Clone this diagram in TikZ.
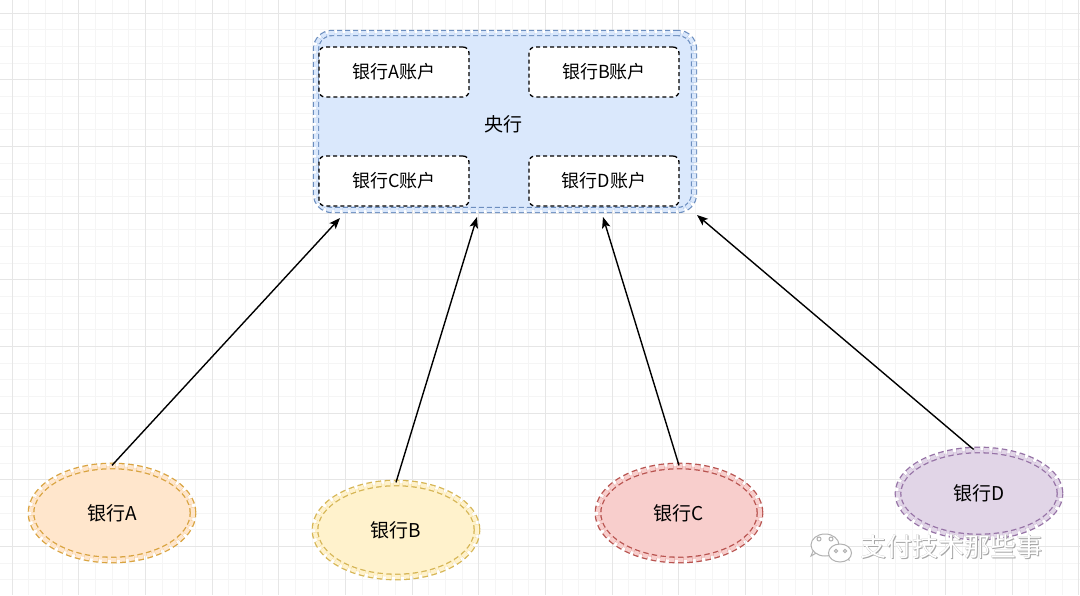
\documentclass[tikz,border=0pt]{standalone}
\usepackage{fontspec}
\setmainfont{Noto Sans CJK SC}
\usetikzlibrary{arrows.meta,shapes.geometric}
\definecolor{bluefill}{HTML}{DAE8FC}
\definecolor{bluedraw}{HTML}{6C8EBF}
\definecolor{orfill}{HTML}{FFE6CC}
\definecolor{ordraw}{HTML}{D9A441}
\definecolor{yefill}{HTML}{FFF2CC}
\definecolor{yedraw}{HTML}{D6B656}
\definecolor{refill}{HTML}{F8CECC}
\definecolor{redraw}{HTML}{B85450}
\definecolor{pufill}{HTML}{E1D5E7}
\definecolor{pudraw}{HTML}{9673A6}
\definecolor{gridminor}{HTML}{F5F5F5}
\definecolor{gridmajor}{HTML}{E6E6E6}
\begin{document}
\begin{tikzpicture}[x=1pt,y=-1pt,
  minorline/.style={draw=gridminor,line width=1pt},
  majorline/.style={draw=gridmajor,line width=1pt},
  acc/.style={draw=black,fill=white,dash pattern=on 4pt off 3pt,line width=1.3pt,
    rounded corners=6pt,minimum width=150pt,minimum height=50pt,inner sep=0pt,
    font=\fontsize{18}{21}\selectfont},
  cbank/.style={draw=bluedraw,fill=bluefill,dash pattern=on 5pt off 3pt,line width=1.2pt,
    double=bluefill,double distance=4pt,rounded corners=16pt,
    minimum width=378pt,minimum height=177pt,inner sep=0pt},
  bank/.style={ellipse,dash pattern=on 5.5pt off 3.5pt,line width=1.3pt,double distance=4.2pt,
    minimum width=162pt,minimum height=94pt,inner sep=0pt,font=\fontsize{19}{22}\selectfont},
  link/.style={draw=black,line width=1.4pt,-{Stealth[length=11pt,width=8.5pt,inset=2.5pt]}},
  wm/.style={font=\fontsize{26}{30}\selectfont,inner sep=0pt}
]
\useasboundingbox (0,0) rectangle (1080,595);
\fill[white] (0,0) rectangle (1080,595);
% grid
\foreach \i in {-1,...,64} {
  \draw[minorline] ({12.3+16.667*\i},0) -- ({12.3+16.667*\i},595);
}
\foreach \i in {-1,...,36} {
  \draw[minorline] (0,{13.3+16.667*\i}) -- (1080,{13.3+16.667*\i});
}
\foreach \i in {0,...,16} {
  \draw[majorline] ({12.3+66.667*\i},0) -- ({12.3+66.667*\i},595);
}
\foreach \i in {0,...,9} {
  \draw[majorline] (0,{13.3+66.667*\i}) -- (1080,{13.3+66.667*\i});
}
% central bank
\node[cbank] (cb) at (505,121.5) {};
\node[font=\fontsize{19}{22}\selectfont] (cbl) at (503,124) {央行};
\node[acc] (accA) at (394,72) {银行A账户};
\node[acc] (accB) at (604,72) {银行B账户};
\node[acc] (accC) at (394,181) {银行C账户};
\node[acc] (accD) at (604,181) {银行D账户};
% banks
\node[bank,draw=ordraw,fill=orfill,double=orfill] (bA) at (112,513) {银行A};
\node[bank,draw=yedraw,fill=yefill,double=yefill] (bB) at (396,530) {银行B};
\node[bank,draw=redraw,fill=refill,double=refill] (bC) at (679,513) {银行C};
\node[bank,draw=pudraw,fill=pufill,double=pufill,minimum height=87pt] (bD) at (979,493.5) {银行D};
% arrow targets on the central box
\coordinate (tA) at (340,218);
\coordinate (tB) at (477,217);
\coordinate (tC) at (603,217);
\coordinate (tD) at (697,215);
\draw[link] (bA.north) -- (tA);
\draw[link] (bB.north) -- (tB);
\draw[link] (bC.north) -- (tC);
\draw[link] (bD.97) -- (tD);
% watermark icon
\begin{scope}[draw=black!30,line width=1pt,fill=white]
  \filldraw (811,556) -- (814,549) -- (818,552) -- cycle;
  \filldraw (825,545) ellipse [x radius=14pt,y radius=11pt];
  \filldraw (849,560) -- (847,553) -- (843,557) -- cycle;
  \filldraw (840,553) ellipse [x radius=11.5pt,y radius=9pt];
  \filldraw (819,539) circle [radius=2pt];
  \filldraw (831,539) circle [radius=2pt];
  \filldraw (836,551) circle [radius=1.6pt];
  \filldraw (845,551) circle [radius=1.6pt];
\end{scope}
% watermark text
\node[wm,text=black!35] at (952.5,548) {支付技术那些事};
\node[wm,text=black!35] at (951.5,546.5) {支付技术那些事};
\node[wm,text=white] (wmt) at (951.8,547) {支付技术那些事};
\end{tikzpicture}
\end{document}
